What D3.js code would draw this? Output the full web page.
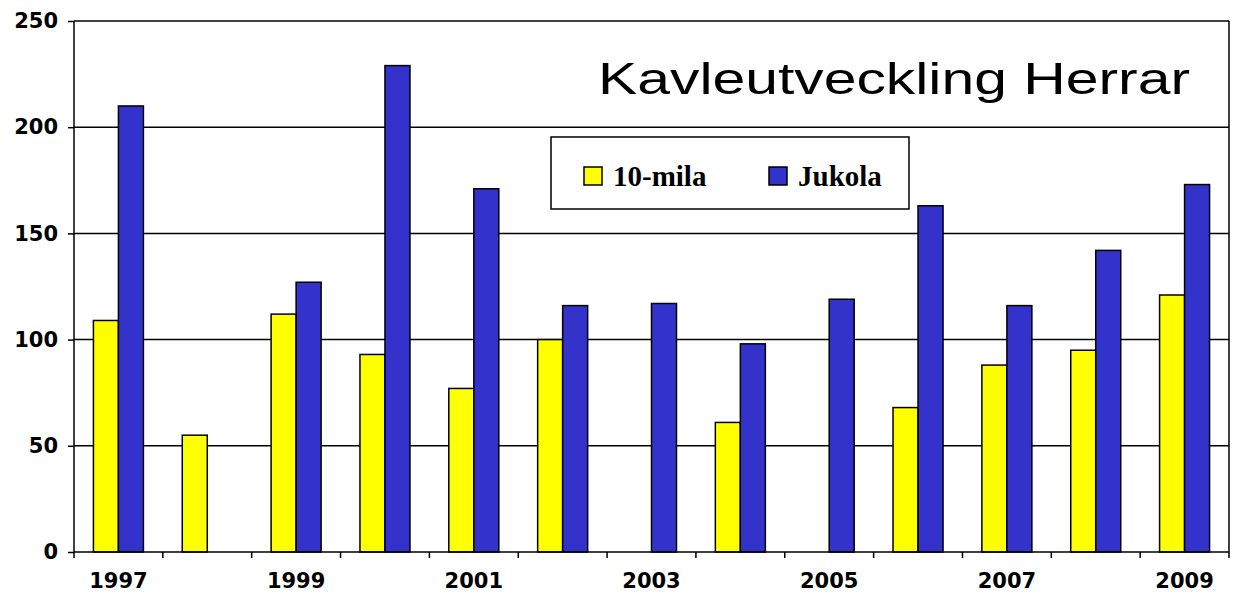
<!DOCTYPE html>
<html>
<head>
<meta charset="utf-8">
<script src="https://cdn.jsdelivr.net/npm/d3@7/dist/d3.min.js"></script>
<style>
  body { margin: 0; background: #fff; }
</style>
</head>
<body>
<div id="chart"></div>
<script>
let years = ['1997', '1998', '1999', '2000', '2001', '2002', '2003', '2004', '2005', '2006', '2007', '2008', '2009']
let tenMila = [109, 55, 112, 93, 77, 100, null, 61, null, 68, 88, 95, 121]
let jukola = [210, null, 127, 229, 171, 116, 117, 98, 119, 163, 116, 142, 173]
let seriesNames = ['10-mila', 'Jukola']
let seriesColors = ['#ffff00', '#3333cc']
let yTicks = [0, 50, 100, 150, 200, 250]
let xTickLabels = ['1997', '1999', '2001', '2003', '2005', '2007', '2009']

let width = 1233
let height = 594
let plotLeft = 74
let plotRight = 1229
let plotTop = 21
let plotBottom = 552

let svg = d3.select('#chart')
  .append('svg')
  .attr('width', width)
  .attr('height', height)

let x = d3.scaleBand().domain(years).range([plotLeft, plotRight]).padding(0)
let xInner = d3.scaleBand().domain(seriesNames).range([0, 50])
let y = d3.scaleLinear().domain([0, 250]).range([plotBottom, plotTop])

// gridlines
svg.append('g')
  .selectAll('line')
  .data(yTicks.filter(d => d > 0))
  .enter()
  .append('line')
  .attr('x1', plotLeft)
  .attr('x2', plotRight)
  .attr('y1', d => y(d))
  .attr('y2', d => y(d))
  .attr('stroke', '#000')
  .attr('stroke-width', 1.5)

// right border
svg.append('line')
  .attr('x1', plotRight).attr('x2', plotRight)
  .attr('y1', plotTop).attr('y2', plotBottom)
  .attr('stroke', '#000')
  .attr('stroke-width', 1.5)

// bars
let rows = years.map((yr, i) => ({ year: yr, values: [tenMila[i], jukola[i]] }))
let groups = svg.append('g')
  .selectAll('g')
  .data(rows)
  .enter()
  .append('g')
  .attr('transform', d => 'translate(' + (x(d.year) + x.bandwidth() / 2 - 25) + ',0)')

groups.selectAll('rect')
  .data(d => d.values.map((v, j) => ({ name: seriesNames[j], value: v, color: seriesColors[j] })).filter(e => e.value != null))
  .enter()
  .append('rect')
  .attr('x', d => xInner(d.name))
  .attr('y', d => y(d.value))
  .attr('width', xInner.bandwidth())
  .attr('height', d => plotBottom - y(d.value))
  .attr('fill', d => d.color)
  .attr('stroke', '#000')
  .attr('stroke-width', 1.5)

// y axis
let yAxis = svg.append('g')
  .attr('transform', 'translate(' + plotLeft + ',0)')
  .call(d3.axisLeft(y).tickValues(yTicks).tickSize(6).tickPadding(10))
yAxis.select('.domain').attr('stroke', '#000').attr('stroke-width', 1.5).attr('d', 'M0,' + plotTop + 'V' + plotBottom)
yAxis.selectAll('.tick line').attr('stroke', '#000').attr('stroke-width', 1.5)
yAxis.selectAll('.tick text')
  .style('font-family', '"DejaVu Sans", Verdana, sans-serif')
  .style('font-weight', 'bold')
  .style('font-size', '21px')
  .attr('fill', '#000')

// x axis
svg.append('line')
  .attr('x1', plotLeft).attr('x2', plotRight)
  .attr('y1', plotBottom).attr('y2', plotBottom)
  .attr('stroke', '#000')
  .attr('stroke-width', 1.5)

let boundaries = years.map(yr => x(yr)).concat([plotRight])
svg.append('g')
  .selectAll('line')
  .data(boundaries)
  .enter()
  .append('line')
  .attr('x1', d => d).attr('x2', d => d)
  .attr('y1', plotBottom).attr('y2', plotBottom + 6)
  .attr('stroke', '#000')
  .attr('stroke-width', 1.5)

svg.append('g')
  .selectAll('text')
  .data(xTickLabels)
  .enter()
  .append('text')
  .attr('x', d => x(d) + x.bandwidth() / 2)
  .attr('y', 588)
  .attr('text-anchor', 'middle')
  .style('font-family', '"DejaVu Sans", Verdana, sans-serif')
  .style('font-weight', 'bold')
  .style('font-size', '21px')
  .text(d => d)

// title
svg.append('text')
  .attr('x', 598)
  .attr('y', 94)
  .attr('textLength', 592)
  .attr('lengthAdjust', 'spacingAndGlyphs')
  .style('font-family', '"Liberation Sans", Arial, sans-serif')
  .style('font-size', '44px')
  .text('Kavleutveckling Herrar')

// legend
let legend = svg.append('g')
legend.append('rect')
  .attr('x', 551).attr('y', 137)
  .attr('width', 358).attr('height', 72)
  .attr('fill', '#fff')
  .attr('stroke', '#000')
  .attr('stroke-width', 1.5)

let legendX = [584, 769]
seriesNames.forEach((name, i) => {
  legend.append('rect')
    .attr('x', legendX[i]).attr('y', 167)
    .attr('width', 18).attr('height', 18)
    .attr('fill', seriesColors[i])
    .attr('stroke', '#000')
    .attr('stroke-width', 1.5)
  legend.append('text')
    .attr('x', legendX[i] + 29)
    .attr('y', 186)
    .style('font-family', '"Liberation Serif", "Times New Roman", serif')
    .style('font-weight', 'bold')
    .style('font-size', '29px')
    .text(name)
})
</script>
</body>
</html>
